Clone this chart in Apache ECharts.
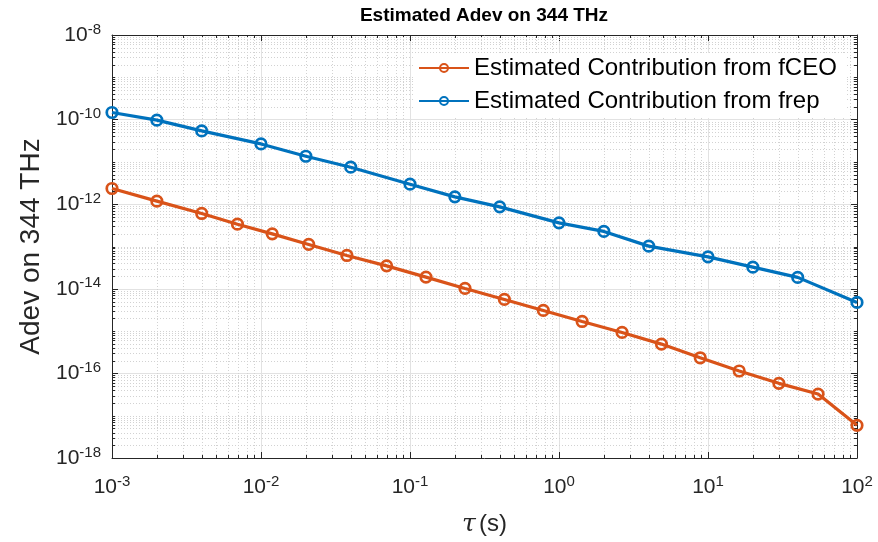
<!DOCTYPE html>
<html>
<head>
<meta charset="utf-8">
<script src="https://cdn.jsdelivr.net/npm/echarts@6/dist/echarts.min.js"></script>
<style>
  html, body { margin: 0; padding: 0; background: #fff; }
  #chart { width: 878px; height: 542px; }
</style>
</head>
<body>
<div id="chart"></div>
<script>
// averaging times (s) and Allan deviations
const tauRep = [1e-3, 2e-3, 4e-3, 1e-2, 2e-2, 4e-2, 0.1, 0.2, 0.4, 1, 2, 4, 10, 20, 40, 100]
const adevRep = [1.47e-10, 9.7e-11, 5.4e-11, 2.66e-11, 1.36e-11, 7.5e-12, 2.97e-12, 1.49e-12,
  8.65e-13, 3.62e-13, 2.27e-13, 1.02e-13, 5.69e-14, 3.25e-14, 1.86e-14, 4.76e-15]
const tauCeo = [1e-3, 2e-3, 4e-3, 6.95e-3, 0.0119, 0.0209, 0.0377, 0.0697, 0.128, 0.234,
  0.430, 0.785, 1.43, 2.65, 4.87, 8.87, 16.2, 29.9, 54.8, 100]
const adevCeo = [2.35e-12, 1.18e-12, 6.04e-13, 3.37e-13, 1.99e-13, 1.12e-13, 6.14e-14, 3.49e-14,
  1.89e-14, 1.02e-14, 5.61e-15, 3.08e-15, 1.69e-15, 9.3e-16, 4.93e-16, 2.34e-16, 1.14e-16,
  5.82e-17, 3.25e-17, 5.93e-18]

const seriesNames = ['Estimated Contribution from fCEO', 'Estimated Contribution from frep']
const xRange = [1e-3, 1e2]
const yRange = [1e-18, 1e-8]

const FONT = 'Liberation Sans, Arial, sans-serif'
const INK = '#262626'

// minor grid positions (2..9 in every decade, plus odd decades on y)
const minorX = []
for (let n = -3; n < 2; n++) {
  for (let k = 2; k <= 9; k++) minorX.push(k * Math.pow(10, n))
}
const minorY = []
for (let n = -18; n < -8; n++) {
  for (let k = 1; k <= 9; k++) {
    if (k === 1 && n % 2 === 0) continue
    minorY.push(k * Math.pow(10, n))
  }
}

function powLabel (v) {
  const e = Math.round(Math.log10(v))
  return '{b|10}{s|' + e + '}'
}

const labelRich = {
  b: { fontSize: 21, fontFamily: FONT, color: INK },
  s: { fontSize: 15, fontFamily: FONT, color: INK, verticalAlign: 'bottom', padding: [0, 0, 11, 0] }
}

function minorLine (a, b, horiz) {
  const x1 = Math.round(a[0]) + (horiz ? 0 : 0.5)
  const y1 = Math.round(a[1]) + (horiz ? 0.5 : 0)
  const x2 = Math.round(b[0]) + (horiz ? 0 : 0.5)
  const y2 = Math.round(b[1]) + (horiz ? 0.5 : 0)
  const t = 3
  return {
    type: 'group',
    children: [
      { type: 'line', shape: { x1, y1, x2, y2 }, style: { stroke: '#d2d2d2', lineWidth: 1, lineDash: [1, 2] } },
      { type: 'line', shape: horiz ? { x1, y1, x2: x1 + t, y2: y1 } : { x1, y1, x2: x1, y2: y1 - t }, style: { stroke: INK, lineWidth: 1 } },
      { type: 'line', shape: horiz ? { x1: x2, y1: y2, x2: x2 - t, y2 } : { x1: x2, y1: y2, x2, y2: y2 + t }, style: { stroke: INK, lineWidth: 1 } }
    ]
  }
}

function lineSeries (name, tau, adev, color) {
  return {
    name: name,
    type: 'line',
    z: 3,
    data: tau.map((t, i) => [t, adev[i]]),
    symbol: 'circle',
    symbolSize: 10.5,
    lineStyle: { width: 3.2, color: color },
    itemStyle: { color: 'transparent', borderColor: color, borderWidth: 2.7 }
  }
}

const chart = echarts.init(document.getElementById('chart'))

const axisCommon = {
  type: 'log',
  logBase: 10,
  axisLine: { show: true, lineStyle: { color: INK, width: 1 } },
  axisTick: { show: true, inside: true, length: 6, lineStyle: { color: INK } },
  minorTick: { show: false },
  minorSplitLine: { show: false }
}

const option = {
  animation: false,
  backgroundColor: '#fff',
  title: {
    text: 'Estimated Adev on 344 THz',
    left: 479,
    textAlign: 'center',
    top: 1,
    textStyle: { fontFamily: FONT, fontSize: 19, fontWeight: 'bold', color: '#000' }
  },
  legend: {
    data: seriesNames,
    orient: 'vertical',
    left: 413,
    top: 53,
    itemWidth: 50,
    itemHeight: 10,
    itemGap: 9,
    padding: [3, 10, 5, 5],
    backgroundColor: '#fff',
    textStyle: { fontFamily: FONT, fontSize: 24, color: '#000' }
  },
  grid: { left: 112, right: 21, top: 35, bottom: 84 },
  xAxis: [
    Object.assign({}, axisCommon, {
      min: xRange[0],
      max: xRange[1],
      interval: 1,
      position: 'bottom',
      name: '{t|τ} {n|(s)}',
      nameLocation: 'middle',
      nameGap: 54,
      nameTextStyle: {
        rich: {
          t: { fontSize: 25, fontStyle: 'italic', fontFamily: 'DejaVu Serif, serif', color: INK },
          n: { fontSize: 24, fontFamily: FONT, color: INK }
        }
      },
      axisLabel: { margin: 16, formatter: powLabel, rich: labelRich },
      splitLine: { show: true, lineStyle: { color: '#e2e2e2', width: 1 } }
    }),
    Object.assign({}, axisCommon, {
      min: xRange[0],
      max: xRange[1],
      interval: 1,
      position: 'top',
      axisLabel: { show: false },
      splitLine: { show: false }
    })
  ],
  yAxis: [
    Object.assign({}, axisCommon, {
      min: yRange[0],
      max: yRange[1],
      interval: 2,
      position: 'left',
      name: 'Adev on 344 THz',
      nameLocation: 'middle',
      nameGap: 66,
      nameTextStyle: { fontFamily: FONT, fontSize: 28, color: INK },
      axisLabel: { margin: 11, formatter: powLabel, rich: labelRich },
      splitLine: { show: true, lineStyle: { color: '#e2e2e2', width: 1 } }
    }),
    Object.assign({}, axisCommon, {
      min: yRange[0],
      max: yRange[1],
      interval: 2,
      position: 'right',
      axisLabel: { show: false },
      splitLine: { show: false }
    })
  ],
  series: [
    {
      name: 'minorX',
      type: 'custom',
      silent: true,
      z: 1,
      data: minorX.map(v => [v, yRange[0]]),
      renderItem: (params, api) => {
        const v = api.value(0)
        return minorLine(api.coord([v, yRange[0]]), api.coord([v, yRange[1]]), false)
      }
    },
    {
      name: 'minorY',
      type: 'custom',
      silent: true,
      z: 1,
      data: minorY.map(v => [xRange[0], v]),
      renderItem: (params, api) => {
        const v = api.value(1)
        return minorLine(api.coord([xRange[0], v]), api.coord([xRange[1], v]), true)
      }
    },
    lineSeries(seriesNames[0], tauCeo, adevCeo, '#D95319'),
    lineSeries(seriesNames[1], tauRep, adevRep, '#0072BD')
  ]
}

chart.setOption(option)
</script>
</body>
</html>
